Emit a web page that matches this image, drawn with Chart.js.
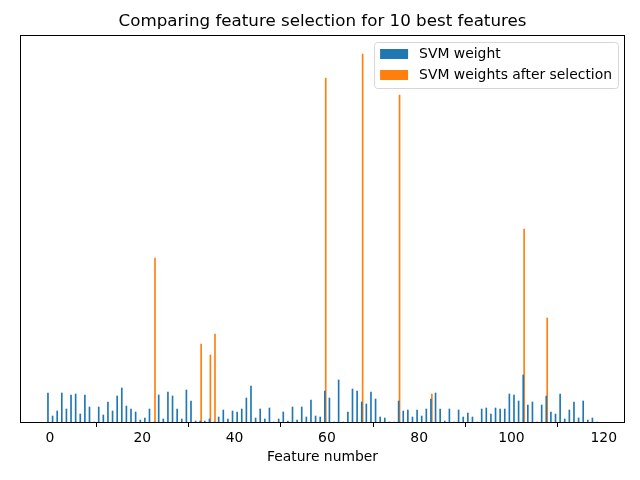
<!DOCTYPE html>
<html>
<head>
<meta charset="utf-8">
<script src="https://cdn.jsdelivr.net/npm/chart.js@4/dist/chart.umd.min.js"></script>
<style>
  html, body { margin: 0; padding: 0; background: #fff; }
  #wrap { width: 640px; height: 480px; }
</style>
</head>
<body>
<div id="wrap"><canvas id="chart" width="640" height="480"></canvas></div>
<script>
// relative SVM weight for every feature 0..119
const svmWeight = [
  29, 6, 11, 29, 13, 27, 28, 8, 27, 15,
  0, 15, 7, 20, 11, 26, 34, 16, 13, 10,
  2, 4, 13, 0, 27, 3, 30, 26, 13, 3,
  32, 21, 1, 1, 1, 3, 0, 5, 12, 3,
  11, 10, 13, 24, 36, 4, 13, 3, 14, 0,
  3, 10, 1, 15, 2, 15, 5, 22, 6, 5,
  31, 24, 0, 42, 0, 10, 33, 31, 20, 18,
  30, 23, 5, 4, 0, 0, 21, 11, 12, 5,
  12, 6, 13, 23, 29, 13, 1, 13, 0, 12,
  5, 9, 5, 0, 13, 14, 8, 14, 13, 13,
  28, 27, 21, 47, 17, 20, 0, 17, 26, 10,
  8, 28, 3, 12, 20, 4, 21, 2, 4, 0
];
// the 10 selected features and their weights after selection
const selectedFeatures = [23, 33, 35, 36, 60, 68, 76, 83, 103, 108];
const selectedWeight = [164, 78, 67, 88, 344, 368, 327, 28, 193, 104];
const xTicks = [0, 20, 40, 60, 80, 100, 120];

const FONT = 'DejaVu Sans';

const blueData = svmWeight.map((v, i) => ({ x: i - 0.45, y: v }));
const orangeData = selectedFeatures.map((f, k) => ({ x: f - 0.25, y: selectedWeight[k] }));

// frame, title and legend like matplotlib
const decor = {
  id: 'decor',
  afterDraw(chart) {
    const ctx = chart.ctx;
    const a = chart.chartArea;
    ctx.save();
    ctx.strokeStyle = '#000';
    ctx.lineWidth = 1;
    ctx.strokeRect(Math.round(a.left) + 0.5, Math.round(a.top) + 0.5,
      Math.round(a.right - a.left) - 1, Math.round(a.bottom - a.top));

    ctx.fillStyle = '#000';
    ctx.font = '16.7px "' + FONT + '"';
    ctx.textAlign = 'center';
    ctx.textBaseline = 'middle';
    ctx.fillText('Comparing feature selection for 10 best features', (a.left + a.right) / 2, 22);

    // legend
    const ds = chart.data.datasets;
    ctx.font = '13.9px "' + FONT + '"';
    let tw = 0;
    ds.forEach(d => { tw = Math.max(tw, ctx.measureText(d.label).width); });
    const boxR = a.right - 7, boxT = 42;
    const boxW = 6 + 28 + 11 + tw + 6, boxH = 46;
    const boxL = boxR - boxW;
    ctx.beginPath();
    ctx.roundRect(boxL + 0.5, boxT + 0.5, boxW, boxH, 3);
    ctx.fillStyle = 'rgba(255,255,255,0.8)';
    ctx.fill();
    ctx.strokeStyle = '#d6d6d6';
    ctx.stroke();
    ds.forEach((d, k) => {
      const cy = boxT + 12 + k * 21;
      ctx.fillStyle = d.backgroundColor;
      ctx.fillRect(boxL + 6, cy - 5, 28, 10);
      ctx.fillStyle = '#000';
      ctx.textAlign = 'left';
      ctx.textBaseline = 'middle';
      ctx.fillText(d.label, boxL + 45, cy);
    });
    ctx.restore();
  }
};

new Chart(document.getElementById('chart').getContext('2d'), {
  type: 'bar',
  data: {
    datasets: [
      { label: 'SVM weight', data: blueData, backgroundColor: '#1f77b4', barThickness: 1, grouped: false },
      { label: 'SVM weights after selection', data: orangeData, backgroundColor: '#ff7f0e', barThickness: 1, grouped: false }
    ]
  },
  options: {
    responsive: false,
    animation: false,
    layout: { padding: { left: 20, right: 15, top: 35, bottom: 0 } },
    plugins: { legend: { display: false }, title: { display: false }, tooltip: { enabled: false } },
    scales: {
      x: {
        type: 'linear',
        min: -6.51,
        max: 124.61,
        offset: false,
        afterBuildTicks: s => { s.ticks = xTicks.map(v => ({ value: v })); },
        afterFit: s => { s.height = 58; },
        grid: { drawOnChartArea: false, drawTicks: true, tickLength: 5, tickColor: '#000' },
        border: { display: false },
        ticks: { color: '#000', padding: 3, maxRotation: 0, font: { family: FONT, size: 13.9 } },
        title: { display: true, text: 'Feature number', color: '#000', padding: { top: 0, bottom: 14.6 }, font: { family: FONT, size: 13.9 } }
      },
      y: {
        display: false,
        min: 0,
        max: 387
      }
    }
  },
  plugins: [decor]
});
</script>
</body>
</html>
